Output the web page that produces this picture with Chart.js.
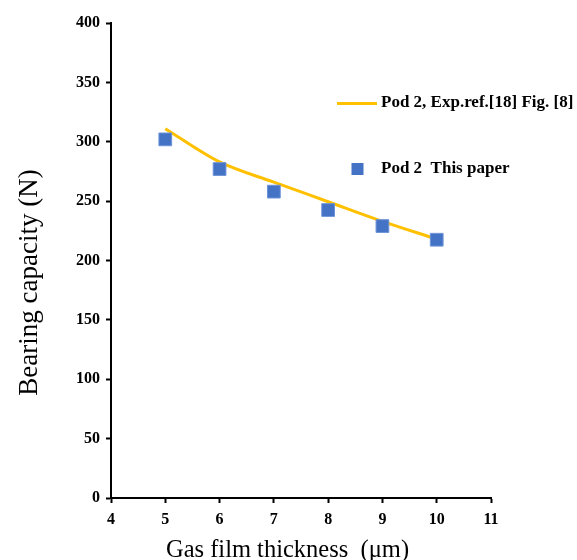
<!DOCTYPE html>
<html>
<head>
<meta charset="utf-8">
<script src="https://cdn.jsdelivr.net/npm/chart.js@4.4.0/dist/chart.umd.min.js"></script>
<style>
html,body{margin:0;padding:0;background:#fff;}
#wrap{width:577px;height:560px;position:relative;}
</style>
</head>
<body>
<div id="wrap"><canvas id="c" width="577" height="560"></canvas></div>
<script>
const thickness = [5, 6, 7, 8, 9, 10];
const expRef = [311, 283, 266, 249.5, 233, 218];
const thisPaper = [302, 277, 258, 242.5, 229, 217.5];
const xTicks = [4, 5, 6, 7, 8, 9, 10, 11];
const yTicks = [0, 50, 100, 150, 200, 250, 300, 350, 400];
const seriesNames = ['Pod 2, Exp.ref.[18] Fig. [8]', 'Pod 2  This paper'];
const xTitle = 'Gas film thickness  (\u03bcm)';
const yTitle = 'Bearing capacity (N)';

const LINE_COLOR = '#FFC000';
const SQ_COLOR = '#4472C4';
const SERIF = '"Liberation Serif", "Times New Roman", serif';

const overlay = {
  id: 'overlay',
  afterDraw(chart) {
    const ctx = chart.ctx;
    ctx.save();
    // legend
    ctx.strokeStyle = LINE_COLOR;
    ctx.lineWidth = 3;
    ctx.beginPath();
    ctx.moveTo(337, 103.5);
    ctx.lineTo(377, 103.5);
    ctx.stroke();
    ctx.fillStyle = '#000';
    ctx.font = 'bold 17px ' + SERIF;
    ctx.textBaseline = 'middle';
    ctx.textAlign = 'left';
    ctx.fillText(seriesNames[0], 381, 103);
    ctx.fillStyle = SQ_COLOR;
    ctx.fillRect(351.5, 163, 12, 12);
    ctx.fillStyle = '#000';
    ctx.fillText(seriesNames[1], 381, 169);
    // axis titles
    ctx.font = '24.5px ' + SERIF;
    ctx.textAlign = 'center';
    ctx.textBaseline = 'alphabetic';
    ctx.fillText(xTitle, 287.5, 557);
    ctx.font = '27px ' + SERIF;
    ctx.translate(37, 282.5);
    ctx.rotate(-Math.PI / 2);
    ctx.fillText(yTitle, 0, 0);
    ctx.restore();
  }
};

new Chart(document.getElementById('c'), {
  type: 'scatter',
  data: {
    datasets: [
      {
        label: seriesNames[1],
        data: thickness.map((x, i) => ({x, y: thisPaper[i]})),
        pointStyle: 'rect',
        pointRadius: 9,
        pointHoverRadius: 9,
        backgroundColor: SQ_COLOR,
        borderColor: '#6d93d8',
        borderWidth: 1,
        order: 1
      },
      {
        label: seriesNames[0],
        type: 'line',
        data: thickness.map((x, i) => ({x, y: expRef[i]})),
        borderColor: LINE_COLOR,
        borderWidth: 3,
        pointRadius: 0,
        fill: false,
        cubicInterpolationMode: 'monotone',
        order: 2
      }
    ]
  },
  options: {
    responsive: false,
    animation: false,
    layout: {padding: {top: 23, right: 86, left: 0, bottom: 0}},
    plugins: {legend: {display: false}, tooltip: {enabled: false}},
    scales: {
      x: {
        type: 'linear',
        min: 4, max: 11,
        afterBuildTicks: s => { s.ticks = xTicks.map(v => ({value: v})); },
        afterFit: s => { s.height = 62; },
        border: {display: true, color: '#000', width: 2},
        grid: {display: true, drawOnChartArea: false, drawTicks: true, tickLength: 5, tickWidth: 2, tickColor: '#000'},
        ticks: {color: '#000', padding: 7, font: {family: SERIF, size: 16, weight: 'bold'}, maxRotation: 0}
      },
      y: {
        type: 'linear',
        min: 0, max: 400,
        afterBuildTicks: s => { s.ticks = yTicks.map(v => ({value: v})); },
        afterFit: s => { s.width = 111; },
        border: {display: true, color: '#000', width: 2},
        grid: {display: true, drawOnChartArea: false, drawTicks: true, tickLength: 5, tickWidth: 2, tickColor: '#000'},
        ticks: {color: '#000', padding: 6, font: {family: SERIF, size: 16, weight: 'bold'}}
      }
    }
  },
  plugins: [overlay]
});
</script>
</body>
</html>
